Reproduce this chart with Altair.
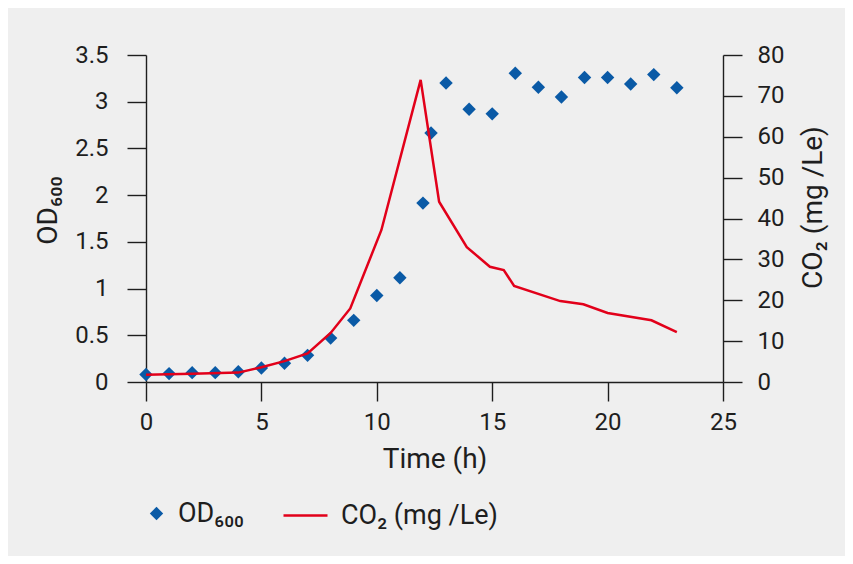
import altair as alt
import pandas as pd

# OD600 measurements (diamonds, left axis)
od_time = [0, 1, 2, 3, 4, 5, 6, 7, 8, 9, 10, 11, 12, 12.35, 13, 14, 15, 16, 17, 18, 19, 20, 21, 22, 23]
od_value = [0.08, 0.09, 0.10, 0.10, 0.11, 0.15, 0.20, 0.285, 0.47, 0.66, 0.925, 1.115, 1.915, 2.665,
            3.20, 2.92, 2.87, 3.305, 3.155, 3.05, 3.26, 3.26, 3.19, 3.29, 3.15]

# CO2 off-gas (red line, right axis)
co2_time = [0, 2, 4, 5, 6, 7, 8, 8.85, 10.2, 11.9, 12.7, 13.9, 14.9, 15.5, 15.95, 17.95, 18.95, 20.0, 21.9, 23.0]
co2_value = [1.8, 2.0, 2.3, 3.6, 5.1, 7.0, 12.0, 18.0, 37.2, 73.9, 44.1, 33.0, 28.2, 27.4, 23.5, 19.8, 19.0, 16.9, 15.1, 12.2]

od_label = "OD₆₀₀"
co2_label = "CO₂ (mg /Le)"

od_df = pd.DataFrame({"t": od_time, "od": od_value, "s": od_label})
co2_df = pd.DataFrame({"t": co2_time, "co2": co2_value, "c": co2_label})

FONT = "Roboto"
INK = "#1e1e1e"
BLUE = "#0a5aa6"
RED = "#e2001a"

x_enc = alt.X("t:Q", scale=alt.Scale(domain=[0, 25], nice=False, zero=False),
              axis=alt.Axis(title="Time (h)", values=[0, 5, 10, 15, 20, 25], labelPadding=9,
                            titlePadding=11, labelFlush=False))

points = alt.Chart(od_df).mark_point(filled=True, opacity=1, color=BLUE, size=180).encode(
    x=x_enc,
    y=alt.Y("od:Q", scale=alt.Scale(domain=[0, 3.5], nice=False),
            axis=alt.Axis(title=od_label, values=[0, 0.5, 1, 1.5, 2, 2.5, 3, 3.5], format="~g",
                          labelPadding=19, labelFlush=False,
                          titleAngle=270, titleX=-90, titleY=155, titleAlign="center",
                          titleBaseline="alphabetic")),
    shape=alt.Shape("s:N", scale=alt.Scale(domain=[od_label], range=["diamond"]),
                    legend=alt.Legend(title=None, orient="none", legendX=-3, legendY=445,
                                      symbolFillColor=BLUE, symbolStrokeColor=BLUE,
                                      symbolStrokeWidth=0, symbolSize=180, labelOffset=8,
                                      labelFontSize=27, labelFont=FONT, labelColor=INK)),
)

line = alt.Chart(co2_df).mark_line(strokeWidth=2.5).encode(
    x=alt.X("t:Q", scale=alt.Scale(domain=[0, 25], nice=False, zero=False)),
    y=alt.Y("co2:Q", scale=alt.Scale(domain=[0, 80], nice=False),
            axis=alt.Axis(title=co2_label, orient="right", values=[0, 10, 20, 30, 40, 50, 60, 70, 80],
                          labelPadding=15, labelFlush=False,
                          titleAngle=270, titleX=98, titleY=152, titleAlign="center",
                          titleBaseline="alphabetic")),
    color=alt.Color("c:N", scale=alt.Scale(domain=[co2_label], range=[RED]),
                    legend=alt.Legend(title=None, orient="none", legendX=136, legendY=437,
                                      symbolType="stroke", symbolSize=1936, symbolStrokeWidth=2.5,
                                      labelOffset=12, labelFontSize=27, labelFont=FONT,
                                      labelColor=INK)),
)

chart = alt.layer(points, line).resolve_scale(y="independent").properties(
    width=577, height=327,
    autosize=alt.AutoSizeParams(type="none"),
    padding={"left": 138, "top": 47, "right": 122, "bottom": 174},
    background="#efefef",
).configure_view(stroke=None).configure_axis(
    grid=False,
    domainColor=INK, domainWidth=1.4,
    tickColor=INK, tickWidth=1.4, tickSize=19,
    labelFont=FONT, labelFontSize=24, labelColor=INK,
    titleFont=FONT, titleFontSize=28, titleFontWeight="normal", titleColor=INK,
)

chart.save("out.html", embed_options={"renderer": "svg", "actions": False})
